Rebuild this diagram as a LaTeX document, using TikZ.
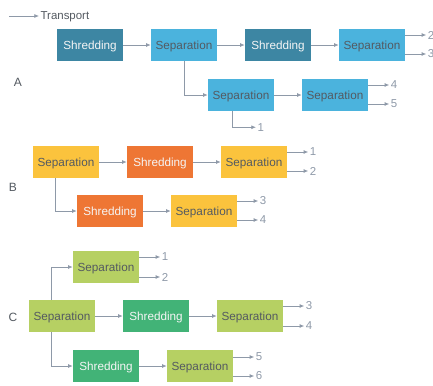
\documentclass[tikz,border=0pt]{standalone}
\usepackage{fontspec}
\setmainfont{Liberation Sans}
\usetikzlibrary{arrows.meta, calc}

\definecolor{shredA}{HTML}{3D86A3}
\definecolor{sepA}{HTML}{4BB3DD}
\definecolor{shredB}{HTML}{EE7634}
\definecolor{sepB}{HTML}{FBC33D}
\definecolor{shredC}{HTML}{42B377}
\definecolor{sepC}{HTML}{B6D063}
\definecolor{flowgray}{HTML}{8E99A8}
\definecolor{darktext}{HTML}{545A61}

\begin{document}
\begin{tikzpicture}[x=0.75pt, y=-0.75pt,
    box/.style={minimum width=49.5pt, minimum height=24pt, inner sep=0pt, text depth=0pt, font=\fontsize{8.8}{10}\selectfont},
    sepbox/.style={box, text=darktext},
    shredbox/.style={box, text=white!92!gray},
    flow/.style={draw=flowgray, line width=0.6pt, -{Latex[length=3.5pt, width=3pt]}},
    outlbl/.style={anchor=west, inner sep=1pt, text=flowgray, font=\fontsize{8.6}{10}\selectfont},
    grouplbl/.style={text=darktext, font=\fontsize{9}{10}\selectfont}]
    \useasboundingbox (0,0) rectangle (433,386);

    \coordinate (leg) at (9, 16);
    \node[anchor=west, inner sep=1pt, text depth=0pt, text=darktext, font=\fontsize{8.6}{10}\selectfont] (transport) at (39, 16) {Transport};
    \draw[flow] (leg) -- (transport.west);

    % A
    \node[grouplbl] (labA) at (18, 82) {A};
    \node[shredbox, fill=shredA] (A1) at (90, 45) {Shredding};
    \node[sepbox, fill=sepA] (A2) at (184, 45) {Separation};
    \node[shredbox, fill=shredA] (A3) at (278, 45) {Shredding};
    \node[sepbox, fill=sepA] (A4) at (372, 45) {Separation};
    \node[sepbox, fill=sepA] (A5) at (241, 95) {Separation};
    \node[sepbox, fill=sepA] (A6) at (335, 95) {Separation};

    \draw[flow] (A1) -- (A2);
    \draw[flow] (A2) -- (A3);
    \draw[flow] (A3) -- (A4);
    \draw[flow] (A2.south) |- (A5.west);
    \draw[flow] (A5) -- (A6);

    \node[outlbl] (A5o1) at ($(A5.south)+(15, 16)$) {1};
    \node[outlbl] (A4o2) at ($(A4.east)+(21, -10)$) {2};
    \node[outlbl] (A4o3) at ($(A4.east)+(21, 9)$) {3};
    \node[outlbl] (A6o4) at ($(A6.east)+(21, -10)$) {4};
    \node[outlbl] (A6o5) at ($(A6.east)+(21, 9)$) {5};
    \draw[flow] ($(A5.south)+(-9, 0)$) |- (A5o1.west);
    \draw[flow] (A4.east |- A4o2) -- (A4o2.west);
    \draw[flow] (A4.east |- A4o3) -- (A4o3.west);
    \draw[flow] (A6.east |- A6o4) -- (A6o4.west);
    \draw[flow] (A6.east |- A6o5) -- (A6o5.west);

    % B
    \node[grouplbl] (labB) at (13, 187) {B};
    \node[sepbox, fill=sepB] (B1) at (66, 162) {Separation};
    \node[shredbox, fill=shredB] (B2) at (160, 162) {Shredding};
    \node[sepbox, fill=sepB] (B3) at (254, 162) {Separation};
    \node[shredbox, fill=shredB] (B4) at (110, 211) {Shredding};
    \node[sepbox, fill=sepB] (B5) at (204, 211) {Separation};

    \draw[flow] (B1) -- (B2);
    \draw[flow] (B2) -- (B3);
    \draw[flow] ($(B1.south)+(-11, 0)$) |- (B4.west);
    \draw[flow] (B4) -- (B5);

    \node[outlbl] (B3o1) at ($(B3.east)+(21, -10)$) {1};
    \node[outlbl] (B3o2) at ($(B3.east)+(21, 9)$) {2};
    \node[outlbl] (B5o3) at ($(B5.east)+(21, -10)$) {3};
    \node[outlbl] (B5o4) at ($(B5.east)+(21, 9)$) {4};
    \draw[flow] (B3.east |- B3o1) -- (B3o1.west);
    \draw[flow] (B3.east |- B3o2) -- (B3o2.west);
    \draw[flow] (B5.east |- B5o3) -- (B5o3.west);
    \draw[flow] (B5.east |- B5o4) -- (B5o4.west);

    % C
    \node[grouplbl] (labC) at (13, 317) {C};
    \node[sepbox, fill=sepC] (C1) at (106, 267) {Separation};
    \node[sepbox, fill=sepC] (C2) at (62, 316) {Separation};
    \node[shredbox, fill=shredC] (C3) at (156, 316) {Shredding};
    \node[sepbox, fill=sepC] (C4) at (250, 316) {Separation};
    \node[shredbox, fill=shredC] (C5) at (106, 366) {Shredding};
    \node[sepbox, fill=sepC] (C6) at (200, 366) {Separation};

    \draw[flow] ($(C2.north)+(-11, 0)$) |- (C1.west);
    \draw[flow] (C2) -- (C3);
    \draw[flow] (C3) -- (C4);
    \draw[flow] ($(C2.south)+(-11, 0)$) |- (C5.west);
    \draw[flow] (C5) -- (C6);

    \node[outlbl] (C1o1) at ($(C1.east)+(21, -10)$) {1};
    \node[outlbl] (C1o2) at ($(C1.east)+(21, 10)$) {2};
    \node[outlbl] (C4o3) at ($(C4.east)+(21, -10)$) {3};
    \node[outlbl] (C4o4) at ($(C4.east)+(21, 10)$) {4};
    \node[outlbl] (C6o5) at ($(C6.east)+(21, -9)$) {5};
    \node[outlbl] (C6o6) at ($(C6.east)+(21, 10)$) {6};
    \draw[flow] (C1.east |- C1o1) -- (C1o1.west);
    \draw[flow] (C1.east |- C1o2) -- (C1o2.west);
    \draw[flow] (C4.east |- C4o3) -- (C4o3.west);
    \draw[flow] (C4.east |- C4o4) -- (C4o4.west);
    \draw[flow] (C6.east |- C6o5) -- (C6o5.west);
    \draw[flow] (C6.east |- C6o6) -- (C6o6.west);
\end{tikzpicture}
\end{document}
